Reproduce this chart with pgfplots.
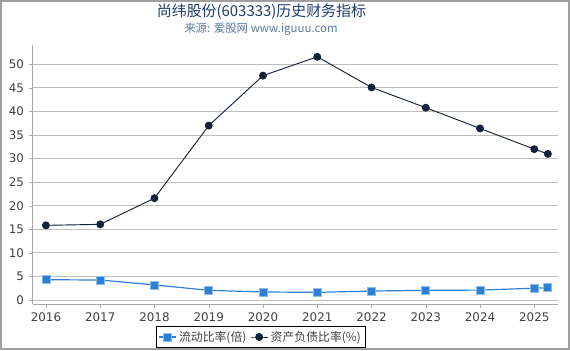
\documentclass[border=0pt]{standalone}
\usepackage{fontspec}
\setmainfont{DejaVu Sans}
\newfontfamily\cjk{Noto Sans CJK SC}
\usepackage{pgfplots}
\pgfplotsset{compat=1.18}
\definecolor{cr}{HTML}{2E7FD8}
\definecolor{crl}{HTML}{8DBBEC}
\definecolor{dr}{HTML}{13223A}
\definecolor{ttl}{HTML}{1F3D6C}
\definecolor{sub}{HTML}{5B7BA2}
\definecolor{tk}{HTML}{404040}
\begin{document}
\begin{tikzpicture}
\path[use as bounding box] (0pt,0pt) rectangle (427.5pt,262.5pt);
\draw[gray!75, line width=1.5pt] (0.56pt,0.56pt) rectangle (426.94pt,261.94pt);
\node[text=ttl] at (196.1pt,253.5pt) {\cjk\fontsize{11.2}{12}\selectfont 尚纬股份(603333)历史财务指标};
\node[text=sub] at (195.75pt,240.75pt) {\cjk\fontsize{8.6}{10}\selectfont 来源: 爱股网 www.iguuu.com};
\begin{axis}[
  at={(24.5pt,34.5pt)}, anchor=south west, scale only axis,
  width=394pt, height=194.25pt,
  xmin=2015.755, xmax=2025.437, ymin=-0.85, ymax=54.1,
  axis x line*=bottom, axis y line*=left,
  axis line style={gray!70},
  xtick={2016,2017,2018,2019,2020,2021,2022,2023,2024,2025},
  ytick={0,5,10,15,20,25,30,35,40,45,50},
  /pgf/number format/1000 sep={},
  /pgf/number format/assume math mode=true,
  ymajorgrids, grid style={gray!50, line width=0.6pt},
  tick style={gray!70}, tick align=outside, major tick length=3pt,
  ticklabel style={font=\fontsize{8.9}{10}\selectfont, text=tk},
  legend style={at={(0.4346,-0.1274)}, anchor=center, draw=black, line width=0.6pt,
    font=\cjk\fontsize{8.9}{10}\selectfont, text=tk, inner sep=1.5pt,
    /tikz/every even column/.append style={column sep=1pt}},
  legend image code/.code={\draw[mark repeat=2,mark phase=2] plot coordinates {(0cm,0cm) (0.22cm,0cm) (0.44cm,0cm)};},
  legend columns=2,
  legend cell align=left,
]
\addplot[color=cr, line width=0.9pt, mark=square*, mark size=3pt,
  mark options={fill=cr, draw=crl, line width=0.6pt}]
  coordinates {(2016,4.3) (2017,4.24) (2018,3.2) (2019,2.05) (2020,1.7) (2021,1.62)
  (2022,1.9) (2023,2.05) (2024,2.1) (2025,2.5) (2025.25,2.6)};
\addlegendentry{流动比率(倍)}
\addplot[color=dr, line width=0.7pt, mark=*, mark size=2.6pt,
  mark options={fill=dr, draw=dr}]
  coordinates {(2016,15.84) (2017,16.05) (2018,21.6) (2019,37.0) (2020,47.6) (2021,51.6)
  (2022,45.1) (2023,40.8) (2024,36.4) (2025,32.0) (2025.25,31.0)};
\addlegendentry{资产负债比率(\%)}
\end{axis}
\end{tikzpicture}
\end{document}
